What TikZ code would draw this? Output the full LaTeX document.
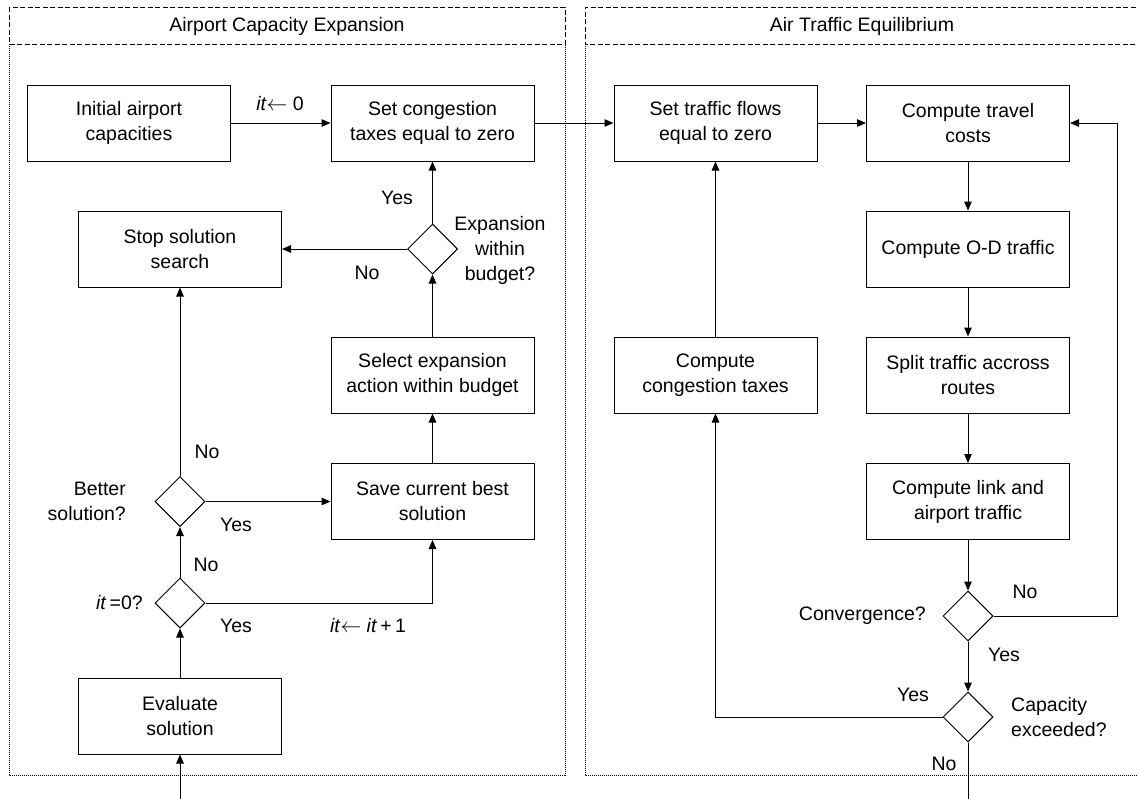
\documentclass[tikz,border=0pt]{standalone}
\usepackage{fontspec}
\setmainfont{Liberation Sans}
\usetikzlibrary{arrows.meta,shapes.geometric}
\begin{document}
\begin{tikzpicture}[x=1pt,y=-1pt,
  font=\fontsize{19.5}{25}\selectfont,
  proc/.style={draw, line width=1pt, minimum width=203pt, minimum height=76pt, align=center, inner sep=2pt},
  test/.style={draw, diamond, line width=1pt, minimum width=50pt, minimum height=50pt, inner sep=0pt},
  flow/.style={line width=1pt, -{Triangle[length=9pt,width=7.5pt]}},
  plain/.style={line width=1pt},
  lbl/.style={inner sep=0pt, align=center},
  hdr/.style={line width=0.8pt, dash pattern=on 5pt off 2.5pt},
  frame/.style={line width=0.8pt, dash pattern=on 1pt off 1pt},
]
\useasboundingbox (0,0) rectangle (1138,798);

% panel frames: dashed title strip, dotted body
\draw[hdr] (9,7) rectangle (565,44);
\draw[frame] (9,44) -- (9,775) -- (565,775) -- (565,44);
\draw[hdr] (1150,44) -- (585,44) -- (585,7) -- (1150,7);
\draw[frame] (585,44) -- (585,775) -- (1150,775);
\node[lbl] (titleL) at (287,26) {Airport Capacity Expansion};
\node[lbl] (titleR) at (862,26) {Air Traffic Equilibrium};

% capacity expansion loop
\node[proc] (init)   at (129,123)   {Initial airport\\capacities};
\node[proc] (setct)  at (432.5,123) {Set congestion\\taxes equal to zero};
\node[test] (exp)    at (432.5,249) {};
\node[proc] (stop)   at (180,249)   {Stop solution\\search};
\node[proc] (select) at (432.5,375) {Select expansion\\action within budget};
\node[proc] (save)   at (432.5,501.5) {Save current best\\solution};
\node[test] (better) at (180,501.5) {};
\node[test] (itz)    at (180,603)   {};
\node[proc] (eval)   at (180,716)   {Evaluate\\solution};
\coordinate (startL) at (180,800);

% traffic equilibrium loop
\node[proc] (settf)  at (715.5,123) {Set traffic flows\\equal to zero};
\node[proc] (travel) at (968,123)   {Compute travel\\costs};
\node[proc] (od)     at (968,249)   {Compute O-D traffic};
\node[proc] (split)  at (968,375)   {Split traffic accross\\routes};
\node[proc] (link)   at (968,501.5) {Compute link and\\airport traffic};
\node[proc] (ctax)   at (715.5,375) {Compute\\congestion taxes};
\node[test] (conv)   at (968,616)   {};
\node[test] (cap)    at (968,717)   {};
\coordinate (fb) at (1117,616);
\coordinate (endR) at (968,800);

% connectors
\draw[flow] (init) -- (setct);
\draw[flow] (setct) -- (settf);
\draw[flow] (settf) -- (travel);
\draw[flow] (travel) -- (od);
\draw[flow] (od) -- (split);
\draw[flow] (split) -- (link);
\draw[flow] (link) -- (conv);
\draw[flow] (conv.east) -- (fb) |- (travel.east);
\draw[flow] (conv) -- (cap);
\draw[flow] (cap.west) -| (ctax);
\draw[flow] (ctax) -- (settf);
\draw[plain] (cap.south) -- (endR);

\draw[flow] (startL) -- (eval);
\draw[flow] (eval) -- (itz);
\draw[flow] (itz) -- (better);
\draw[flow] (itz.east) -| (save);
\draw[flow] (better) -- (save);
\draw[flow] (better) -- (stop);
\draw[flow] (save) -- (select);
\draw[flow] (select) -- (exp);
\draw[flow] (exp) -- (setct);
\draw[flow] (exp) -- (stop);

% labels
\node[lbl] (l1)  at (280,104) {\textit{it}$\leftarrow$ 0};
\node[lbl] (l2)  at (397,198) {Yes};
\node[lbl] (l3)  at (500,250) {Expansion\\within\\budget?};
\node[lbl] (l4)  at (367,273) {No};
\node[lbl] (l5)  at (207,452) {No};
\node[lbl, anchor=east, align=right] (l6) at (126,501.5) {Better\\solution?};
\node[lbl] (l7)  at (236,525) {Yes};
\node[lbl] (l8)  at (206,565) {No};
\node[lbl, anchor=east] (l9) at (143,603) {\textit{it}\,=0?};
\node[lbl] (l10) at (236,626) {Yes};
\node[lbl] (l11) at (368,626) {\textit{it}$\leftarrow$ \textit{it}\,+\,1};
\node[lbl, anchor=east] (l12) at (926,616) {Convergence?};
\node[lbl] (l13) at (1025,592) {No};
\node[lbl] (l14) at (1004,655) {Yes};
\node[lbl] (l15) at (913,695) {Yes};
\node[lbl, anchor=west, align=left] (l16) at (1011,717) {Capacity\\exceeded?};
\node[lbl] (l17) at (944,764) {No};
\end{tikzpicture}
\end{document}
